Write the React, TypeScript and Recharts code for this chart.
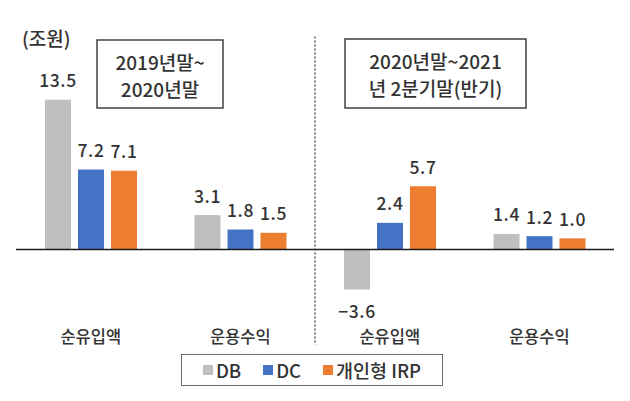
import React from "react";
import { BarChart, Bar, XAxis, YAxis, ReferenceLine, Legend, LabelList } from "recharts";

const categories = ["순유입액", "운용수익", "순유입액", "운용수익"];
const dbValues = [13.5, 3.1, -3.6, 1.4];
const dcValues = [7.2, 1.8, 2.4, 1.2];
const irpValues = [7.1, 1.5, 5.7, 1.0];
const seriesNames = ["DB", "DC", "개인형 IRP"];
const seriesKeys = ["db", "dc", "irp"];
const seriesColors = ["#BFBFBF", "#4472C4", "#ED7D31"];
const periodLines = [["2019년말~", "2020년말"], ["2020년말~2021", "년 2분기말(반기)"]];
const unitLabel = "(조원)";

const data = categories.map((name, i) => ({
  name,
  pos: i + 0.5,
  db: dbValues[i],
  dc: dcValues[i],
  irp: irpValues[i],
}));

const FONT = "'Noto Sans CJK KR', 'Noto Sans', sans-serif";
const TEXT = "#333333";
const WEIGHT = 500;

const fmt = (v: number) => (v < 0 ? "−" + Math.abs(v).toFixed(1) : v.toFixed(1));

const ValueLabel = (props: any) => {
  const { x, y, width, height, value } = props;
  const top = Math.min(y, y + height);
  const bottom = Math.max(y, y + height);
  const cy = value >= 0 ? top - 20 : bottom + 21;
  return (
    <text
      x={x + width / 2}
      y={cy}
      textAnchor="middle"
      dominantBaseline="central"
      fontSize={17.5}
      fontFamily={FONT}
      fontWeight={WEIGHT}
      fill={TEXT}
      letterSpacing={0.6}
    >
      {fmt(value)}
    </text>
  );
};

const LegendBox = () => (
  <div
    style={{
      boxSizing: "border-box",
      width: 262,
      height: 32,
      border: "1px solid #6b6b6b",
      display: "flex",
      alignItems: "center",
      justifyContent: "center",
      gap: 22,
      fontFamily: FONT,
      fontWeight: WEIGHT,
      fontSize: 18.5,
      color: TEXT,
    }}
  >
    {seriesNames.map((n, i) => (
      <div key={n} style={{ display: "flex", alignItems: "center" }}>
        <span style={{ width: 10, height: 10, background: seriesColors[i], marginRight: 3, display: "inline-block" }} />
        <span>{n}</span>
      </div>
    ))}
  </div>
);

const Box = ({ x, y, w, h, lines }: any) => (
  <g>
    <rect x={x} y={y} width={w} height={h} fill="#fff" stroke="#404040" strokeWidth={1.5} />
    {lines.map((l: string, i: number) => (
      <text
        key={i}
        x={x + w / 2}
        y={y + 21 + i * 27}
        textAnchor="middle"
        dominantBaseline="central"
        fontSize={19}
        fontFamily={FONT}
        fontWeight={WEIGHT}
        fill={TEXT}
      >
        {l}
      </text>
    ))}
  </g>
);

export default function App() {
  return (
    <div style={{ position: "absolute", left: 0, top: 0, background: "#fff" }}>
      <BarChart
        width={630}
        height={401}
        data={data}
        margin={{ top: 72, right: 16, left: 16, bottom: 15 }}
        barSize={26}
        barGap={7}
      >
        <XAxis
          dataKey="name"
          axisLine={false}
          tickLine={false}
          tickSize={0}
          tickMargin={15}
          height={38}
          interval={0}
          tick={{ fontSize: 16.5, fill: TEXT, fontFamily: FONT, fontWeight: WEIGHT }}
        />
        <XAxis xAxisId="n" dataKey="pos" type="number" domain={[0, 4]} allowDataOverflow hide />
        <YAxis hide domain={[-6, 16]} />
        <ReferenceLine y={0} stroke="#1a1a1a" strokeWidth={1.5} />
        <ReferenceLine
          xAxisId="n"
          segment={[{ x: 2, y: 19.2 }, { x: 2, y: -8.6 }]}
          ifOverflow="visible"
          stroke="#404040"
          strokeWidth={1.3}
          strokeDasharray="2 2"
        />
        {seriesKeys.map((k, i) => (
          <Bar key={k} dataKey={k} name={seriesNames[i]} fill={seriesColors[i]} isAnimationActive={false}>
            <LabelList dataKey={k} content={ValueLabel} />
          </Bar>
        ))}
        <Legend
          verticalAlign="bottom"
          content={LegendBox}
          wrapperStyle={{ left: 181, width: 262 }}
        />
        <text x={22} y={37} dominantBaseline="central" fontSize={19} fontFamily={FONT} fontWeight={WEIGHT} fill={TEXT}>
          {unitLabel}
        </text>
        <Box x={97} y={40} w={126} h={68} lines={periodLines[0]} />
        <Box x={345} y={39} w={181} h={69} lines={periodLines[1]} />
      </BarChart>
    </div>
  );
}
